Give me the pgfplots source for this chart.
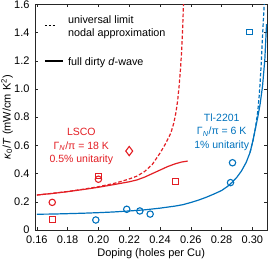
\documentclass[border=0pt]{standalone}
\usepackage{fontspec}
\setmainfont{Liberation Sans}
\usepackage{pgfplots}
\pgfplotsset{compat=1.18}
\definecolor{lsco}{RGB}{227,30,36}
\definecolor{tl}{RGB}{0,114,189}
\begin{document}
\begin{tikzpicture}
\begin{axis}[name=ax, at={(0,0)}, anchor=south west,
  scale only axis, width=232.3pt, height=225.6pt,
  xmin=0.1588, xmax=0.3097, ymin=0, ymax=1.6,
  xtick={0.16,0.18,0.20,0.22,0.24,0.26,0.28,0.30},
  xticklabels={0.16,0.18,0.20,0.22,0.24,0.26,0.28,0.30},
  ytick={0,0.2,0.4,0.6,0.8,1.0,1.2,1.4,1.6},
  yticklabels={0,0.2,0.4,0.6,0.8,1.0,1.2,1.4,1.6},
  tick align=inside, tick pos=both, ticklabel pos=left,
  major tick length=3pt,
  tick style={black!85, line width=0.5pt},
  axis line style={black!85, line width=0.6pt},
  ticklabel style={font=\fontsize{11}{13}\selectfont},
  yticklabel style={xshift=-2pt},
  xticklabel style={yshift=-2.5pt},
  label style={font=\fontsize{11}{13}\selectfont},
  xlabel={Doping (holes per Cu)},
  ylabel={\textit{κ}\textsubscript{0}/\textit{T} (mW/cm K\textsuperscript{2})},
  xlabel style={at={(axis description cs:0.5,-0.104)}, anchor=center},
  ylabel style={at={(axis description cs:-0.1205,0.5)}, anchor=center},
  clip=true,
]
% LSCO curves
\addplot[lsco, line width=1.2pt, dash pattern=on 3.5pt off 2pt] coordinates {
 (0.16,0.248) (0.17,0.260) (0.18,0.273) (0.19,0.289) (0.20,0.307) (0.21,0.330)
 (0.215,0.345) (0.22,0.362) (0.225,0.382) (0.23,0.415) (0.235,0.465) (0.24,0.545)
 (0.2435,0.61) (0.247,0.686) (0.249,0.76) (0.2503,0.83) (0.2515,0.92) (0.2524,1.02)
 (0.2533,1.14) (0.2540,1.26) (0.2546,1.40) (0.2551,1.55) (0.2555,1.70)};
\addplot[lsco, line width=1.2pt] coordinates {
 (0.16,0.248) (0.17,0.259) (0.18,0.272) (0.19,0.287) (0.20,0.303) (0.21,0.322)
 (0.22,0.342) (0.225,0.355) (0.23,0.375) (0.235,0.400) (0.24,0.425) (0.245,0.450)
 (0.25,0.470) (0.254,0.482) (0.258,0.489)};
% Tl-2201 curves
\addplot[tl, line width=1.2pt, dash pattern=on 3.5pt off 2pt] coordinates {
 (0.2985,0.55) (0.3005,0.64) (0.302,0.725) (0.3035,0.84) (0.3045,0.96) (0.305,1.04)
 (0.3056,1.15) (0.3061,1.26) (0.3066,1.37) (0.3071,1.48) (0.3077,1.60) (0.3080,1.68)};
\addplot[tl, line width=1.2pt] coordinates {
 (0.16,0.112) (0.17,0.113) (0.18,0.116) (0.19,0.119) (0.20,0.123) (0.21,0.128)
 (0.22,0.135) (0.23,0.143) (0.24,0.155) (0.25,0.170) (0.255,0.180) (0.26,0.195)
 (0.265,0.212) (0.27,0.232) (0.275,0.255) (0.28,0.280) (0.284,0.310) (0.287,0.340)
 (0.29,0.375) (0.293,0.420) (0.296,0.480) (0.2985,0.55) (0.3005,0.64) (0.302,0.72)
 (0.3035,0.80) (0.305,0.89) (0.3066,1.02) (0.3081,1.21) (0.3092,1.46)};
% LSCO data
\addplot[only marks, lsco, mark=o, mark size=3.2pt, line width=1.1pt] coordinates {
 (0.17,0.196) (0.20,0.360)};
\addplot[only marks, lsco, mark=square, mark size=2.9pt, line width=1.1pt] coordinates {
 (0.17,0.076) (0.20,0.383) (0.25,0.343)};
\addplot[only marks, lsco, mark=diamond, mark size=4.6pt, line width=1.1pt] coordinates {
 (0.22,0.560)};
% Tl-2201 data
\addplot[only marks, tl, mark=o, mark size=3.2pt, line width=1.1pt] coordinates {
 (0.1983,0.071) (0.2184,0.147) (0.2269,0.135) (0.2336,0.113) (0.2858,0.336) (0.2871,0.477)};
\addplot[only marks, tl, mark=square, mark size=2.9pt, line width=1.1pt] coordinates {
 (0.2983,1.404)};
% legend
\draw[black, line width=1.2pt, dash pattern=on 2.4pt off 1.4pt] (rel axis cs:0.043,0.9066) -- (rel axis cs:0.088,0.9066);
\draw[black, line width=1.2pt] (rel axis cs:0.043,0.749) -- (rel axis cs:0.1205,0.749);
\node[anchor=base west, inner sep=0pt, font=\fontsize{10.8}{13}\selectfont] at (rel axis cs:0.142,0.916) {universal limit};
\node[anchor=base west, inner sep=0pt, font=\fontsize{10.8}{13}\selectfont] at (rel axis cs:0.142,0.857) {nodal approximation};
\node[anchor=base west, inner sep=0pt, font=\fontsize{10.8}{13}\selectfont] at (rel axis cs:0.142,0.731) {full dirty \textit{d}-wave};
% annotations
\node[anchor=base, inner sep=0pt, text=lsco, font=\fontsize{10.5}{12}\selectfont] at (axis cs:0.1889,0.670) {LSCO};
\node[anchor=base, inner sep=0pt, text=lsco, font=\fontsize{10.5}{12}\selectfont] at (axis cs:0.1889,0.574) {Γ\textsubscript{\textit{N}}/π = 18 K};
\node[anchor=base, inner sep=0pt, text=lsco, font=\fontsize{10.5}{12}\selectfont] at (axis cs:0.1889,0.479) {0.5\% unitarity};
\node[anchor=base, inner sep=0pt, text=tl, font=\fontsize{10.5}{12}\selectfont] at (axis cs:0.2801,0.768) {Tl-2201};
\node[anchor=base, inner sep=0pt, text=tl, font=\fontsize{10.5}{12}\selectfont] at (axis cs:0.2801,0.674) {Γ\textsubscript{\textit{N}}/π = 6 K};
\node[anchor=base, inner sep=0pt, text=tl, font=\fontsize{10.5}{12}\selectfont] at (axis cs:0.2801,0.579) {1\% unitarity};
\end{axis}
\pgfresetboundingbox
\path ([shift={(-35pt,-33pt)}]ax.south west) rectangle ([shift={(2.7pt,4.4pt)}]ax.north east);
\end{tikzpicture}
\end{document}
